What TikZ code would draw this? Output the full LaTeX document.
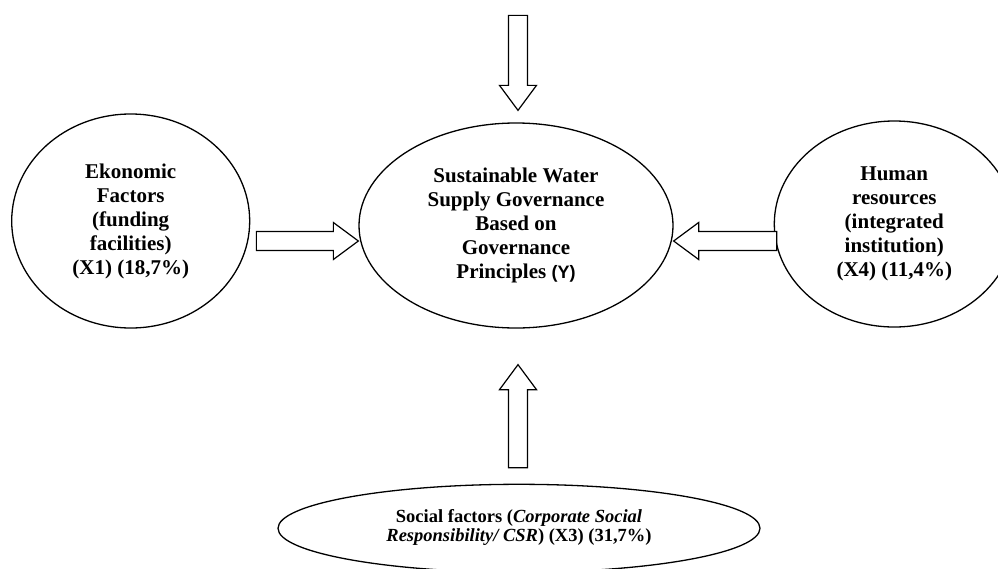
\documentclass[tikz,border=0pt]{standalone}
\usepackage{fontspec}
\setmainfont{Liberation Serif}
\setsansfont{Liberation Sans}
\usetikzlibrary{positioning,shapes.geometric,calc}

% block arrow between two named coordinates, tip at the second one
\newcommand{\fatarrow}[2]{%
  \path ($(#2)!25pt!(#1)$) coordinate (neck);
  \draw[fatarrow] ($(#1)!9.5pt!90:(#2)$) -- ($(neck)!9.5pt!90:(#2)$)
    -- ($(neck)!18.5pt!90:(#2)$) -- (#2) -- ($(neck)!18.5pt!-90:(#2)$)
    -- ($(neck)!9.5pt!-90:(#2)$) -- ($(#1)!9.5pt!-90:(#2)$) -- cycle;}

\tikzset{
  factor/.style={draw, ellipse, line width=1.3pt, inner sep=0pt, align=center,
    font=\bfseries\fontsize{21}{24}\selectfont},
  fatarrow/.style={draw, line width=1.2pt, fill=white, line join=miter}
}

\begin{document}
\begin{tikzpicture}[x=1pt, y=-1pt]
  \useasboundingbox (0,0) rectangle (998,568);

  \node[factor, minimum width=314pt, minimum height=205pt] (gov) at (516,225.5)
    {Sustainable Water\\Supply Governance\\Based on\\Governance\\Principles {\sffamily\fontsize{18}{24}\selectfont (Y)}};
  \node[factor, minimum width=238pt, minimum height=214pt, left=108pt of gov, yshift=4.5pt] (eco)
    {Ekonomic\\Factors\\(funding\\facilities)\\(X1) (18,7\%)};
  \node[factor, minimum width=240pt, minimum height=206pt, right=100pt of gov, yshift=1.5pt] (hum)
    {Human\\resources\\(integrated\\institution)\\(X4) (11,4\%)};
  \node[factor, minimum width=482pt, minimum height=88pt, below=155pt of gov, xshift=3pt,
    font=\bfseries\fontsize{18.5}{19}\selectfont] (soc)
    {\raisebox{-8pt}{\begin{tabular}{@{}c@{}}
      Social factors ({\itshape Corporate Social}\\
      {\itshape Responsibility/ CSR}) (X3) (31,7\%)\end{tabular}}};

  % arrow ends
  \coordinate (topin)  at ($(gov.north)+(2,-107)$);
  \coordinate (toptip) at ($(gov.north)+(2,-12)$);
  \coordinate (ecoout) at ($(eco.east)+(6,20)$);
  \coordinate (ecotip) at ($(gov.west)+(0,15.5)$);
  \coordinate (humout) at ($(hum.west)+(3,17)$);
  \coordinate (humtip) at ($(gov.east)+(0,15.5)$);
  \coordinate (socout) at ($(soc.north)+(-1,-16)$);
  \coordinate (soctip) at ($(gov.south)+(2,36)$);

  \fatarrow{topin}{toptip}
  \fatarrow{ecoout}{ecotip}
  \fatarrow{humout}{humtip}
  \fatarrow{socout}{soctip}
\end{tikzpicture}
\end{document}
